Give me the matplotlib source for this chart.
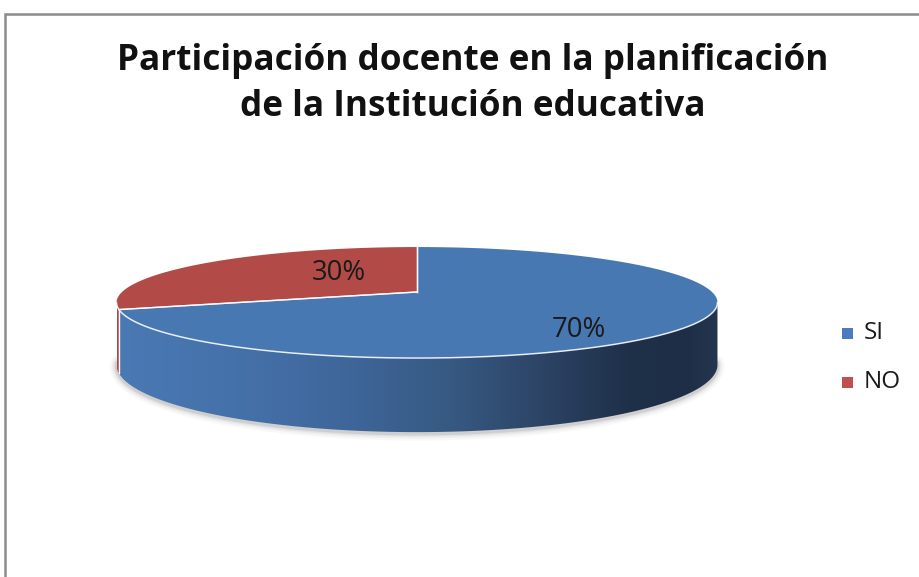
import numpy as np
import matplotlib
matplotlib.use('Agg')
import matplotlib.pyplot as plt
from matplotlib.patches import Polygon, Rectangle
from matplotlib.colors import LinearSegmentedColormap

# ---------------- data ----------------
categories = ['SI', 'NO']
values = [70, 30]
title_lines = ['Participación docente en la planificación',
               'de la Institución educativa']

# ---------------- style ----------------
top_colors = ['#4878b2', '#b24b48']
legend_colors = ['#4a7bbf', '#c0504d']
side_grad = [
    [(0.0, '#4a79b3'), (0.2, '#4571aa'), (0.4, '#3e6598'), (0.55, '#375a83'),
     (0.7, '#2d4567'), (0.85, '#1f3049'), (0.95, '#1e2e47'), (1.0, '#24364f')],
    [(0.0, '#b04a47'), (0.5, '#a54542'), (1.0, '#8a3937')],
]
FONT = 'Open Sans'
W, H = 920, 577

fig = plt.figure(figsize=(W / 100, H / 100), dpi=100)
ax = fig.add_axes([0, 0, 1, 1])
ax.set_xlim(0, W)
ax.set_ylim(H, 0)
ax.axis('off')

# chart area border
ax.plot([5.5, 5.5, W + 5], [H + 5, 13.5, 13.5], color='#8c8c8c', lw=1.8,
        solid_joinstyle='miter', zorder=1)

# ---------------- 3-D pie geometry (simple perspective) ----------------
cx, cy = 417, 292
rx, ry = 295, 53.5
k = 0.19          # perspective strength
D = 60            # thickness


def proj(theta, f=1.0):
    d = f * np.sin(theta)
    s = 1.0 / (1.0 + k * d)
    return cx + rx * f * np.cos(theta) * s, cy - ry * d * s, s


total = float(sum(values))
angles = []
start = np.pi / 2
for v in values:
    end = start - 2 * np.pi * v / total
    angles.append((end, start))
    start = end

th_left = np.pi + np.arcsin(k)
th_right = 2 * np.pi - np.arcsin(k)

# shadow under the pie
tt = np.linspace(th_left - 0.05, th_right + 0.05, 200)
xs, ys, ss = proj(tt)
for lw, a in [(10, 0.04), (7, 0.06), (4.5, 0.09), (2.5, 0.14)]:
    ax.plot(xs, ys + D * ss + 1.5, color='#606060', lw=lw, alpha=a,
            solid_capstyle='round', zorder=2)

# sides
xl, _, _ = proj(th_left)
xr, _, _ = proj(th_right)
grad = np.linspace(0, 1, 256).reshape(1, -1)
for i, (a1, a2) in enumerate(angles):
    for shift in (-2 * np.pi, 0, 2 * np.pi):
        lo = max(a1 + shift, th_left)
        hi = min(a2 + shift, th_right)
        if hi <= lo:
            continue
        t = np.linspace(lo, hi, 200)
        x, y, s = proj(t)
        pts = np.concatenate([np.column_stack([x, y]),
                              np.column_stack([x, y + D * s])[::-1]])
        poly = Polygon(pts, closed=True, facecolor='none', edgecolor='none',
                       zorder=3)
        ax.add_patch(poly)
        cmap = LinearSegmentedColormap.from_list('g%d' % i, side_grad[i])
        im = ax.imshow(grad, cmap=cmap, aspect='auto',
                       extent=[xl, xr, cy + 2 * D + 40, cy - 40],
                       interpolation='bilinear', zorder=3)
        im.set_clip_path(poly)
        for tb in (lo, hi):
            if th_left + 1e-6 < tb < th_right - 1e-6:
                xb, yb, sb = proj(tb)
                ax.plot([xb, xb], [yb, yb + D * sb], color='white', lw=0.9,
                        alpha=0.8, zorder=4)

# top faces
for i, (a1, a2) in enumerate(angles):
    t = np.linspace(a1, a2, 300)
    x, y, _ = proj(t)
    pts = np.concatenate([[[cx, cy]], np.column_stack([x, y])])
    ax.add_patch(Polygon(pts, closed=True, facecolor=top_colors[i],
                         edgecolor='none', zorder=5))
    for tb in (a1, a2):
        xb, yb, _ = proj(tb)
        ax.plot([cx, xb], [cy, yb], color='white', lw=1.0, alpha=0.85,
                zorder=6)

# front rim highlight
t = np.linspace(th_left, th_right, 300)
x, y, _ = proj(t)
ax.plot(x, y, color='white', lw=1.1, alpha=0.85, zorder=6)

renderer = fig.canvas.get_renderer()


def fit_size(s, width, **kw):
    txt = ax.text(0, 0, s, fontsize=20, **kw)
    w = txt.get_window_extent(renderer).width
    txt.remove()
    return 20 * width / w


def fit_text(x, y, s, width, **kw):
    return ax.text(x, y, s, fontsize=fit_size(s, width, **kw), **kw)


# data labels
label_f = [0.63, 0.34]
label_dy = [17, -9]
for i, (a1, a2) in enumerate(angles):
    mid = 0.5 * (a1 + a2)
    lx, ly, _ = proj(mid, label_f[i])
    fit_text(lx, ly + label_dy[i], '%d%%' % round(100 * values[i] / total), 54,
             ha='center', va='center', family=FONT, color='#1a1a1a', zorder=7)

# title
fit_text(472.5, 70, title_lines[0], 711, ha='center', va='baseline',
         family=FONT, fontweight='bold', color='#111111')
fit_text(472.5, 116, title_lines[1], 465, ha='center', va='baseline',
         family=FONT, fontweight='bold', color='#111111')

# legend
leg_fs = fit_size(categories[1], 37, family=FONT)
leg_y = [333, 382]
for i, c in enumerate(categories):
    ax.add_patch(Rectangle((842.5, leg_y[i] - 5.5), 11, 11,
                           facecolor=legend_colors[i], edgecolor='none',
                           zorder=5))
    ax.text(864, leg_y[i], c, fontsize=leg_fs, family=FONT, color='#1a1a1a',
            ha='left', va='center')

fig.savefig('out.png', dpi=100)
